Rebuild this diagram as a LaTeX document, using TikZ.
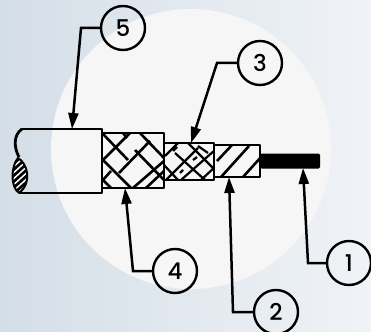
\documentclass[tikz,border=0pt]{standalone}
\usepackage{fontspec}
\setmainfont{Poppins Medium}
\usetikzlibrary{arrows.meta}
\tikzset{
  callout/.style={circle,draw=black,line width=2.4pt,minimum size=44pt,inner sep=0pt,font=\fontsize{23}{23}\selectfont,text=black},
  leader/.style={line width=2.5pt,line join=miter,-{Triangle[length=16pt,width=10pt]}},
  body/.style={line width=2.8pt,line join=round,draw=black},
  weave/.style={line width=2.6pt,line cap=butt}
}
\begin{document}
\begin{tikzpicture}[x=1pt,y=-1pt]
\useasboundingbox (0,0) rectangle (371,331);
\shade[shading=axis,shading angle=105,left color={rgb,255:red,212;green,222;blue,231},right color={rgb,255:red,240;green,243;blue,247}] (0,0) rectangle (371,331);
\fill[fill={rgb,255:red,246;green,246;blue,246}] (191,149) circle[radius=140];
% jacket
\draw[body,line cap=round] (22,129) -- (102,129) -- (102,193) -- (20,193);
\draw[body] (22,129) .. controls (13,135) and (14,148) .. (19,157);
% hatched end
\begin{scope}
\clip (18,158) .. controls (27,163) and (33,182) .. (19,193) .. controls (10,187) and (11,166) .. (18,158) -- cycle;
\fill (0,150) rectangle (40,200);
\foreach \d in {0,6,...,42}{\draw[white,line width=1.5pt] (10,170+\d) -- (32,150+\d);}
\end{scope}
\draw[body,line width=2pt] (18,158) .. controls (27,163) and (33,182) .. (19,193) .. controls (10,187) and (11,166) .. (18,158) -- cycle;
% braid
\begin{scope}
\clip (102,133) rectangle (164,188);
\foreach \a/\b/\c/\e in {
 103/134/128/160, 103/160/130/133, 119/173/148/143, 148/143/150/141, 140/133/164/158,
 135/150/164/180, 103/160/131/188, 133/188/164/161, 103/180/111/171, 146/188/164/171,
 123/133/127/138, 103/180/111/188}{
  \draw[weave] (\a,\b) -- (\c,\e);}
\end{scope}
\draw[body] (102,133) rectangle (164,188);
% shield
\begin{scope}
\clip (164,143) rectangle (214,180);
\foreach \a/\b/\c/\e in {
 165/156/178/143, 166/180/198/148, 181/180/215/150, 175/153/205/180, 188/143/216/171,
 164/165/178/180, 201/180/216/166, 173/151/177/147, 193/160/197/157, 180/173/183/170,
 198/146/208/153}{
  \draw[weave,line width=2.2pt] (\a,\b) -- (\c,\e);}
\end{scope}
\draw[body] (164,143) rectangle (214,180);
% dielectric
\begin{scope}
\clip (214,145) rectangle (260,177);
\draw[weave] (217,161) -- (232,145);
\draw[weave] (221,177) -- (249,146);
\draw[weave] (243,177) -- (262,156);
\end{scope}
\draw[body] (214,145) rectangle (260,177);
% conductor
\fill[rounded corners=1.5pt] (260,153.5) rectangle (320,168.5);
% callouts
\node[callout] (n1) at (349,263) {1};
\node[callout] (n2) at (276,312) {2};
\node[callout] (n3) at (260,63) {3};
\node[callout] (n4) at (175,271) {4};
\node[callout] (n5) at (123,28) {5};
\coordinate (t1) at (303,168);
\coordinate (t2) at (229,177);
\coordinate (t3) at (191,143);
\coordinate (t4) at (125,188);
\coordinate (t5) at (72,129);
\coordinate (b1) at (308,263);
\coordinate (b2) at (233,312);
\coordinate (b3) at (217,63);
\coordinate (b4) at (133,271);
\coordinate (b5) at (81,28);
\draw[leader] (n1.west) -- (b1) -- (t1);
\draw[leader] (n2.west) -- (b2) -- (t2);
\draw[leader] (n3.west) -- (b3) -- (t3);
\draw[leader] (n4.west) -- (b4) -- (t4);
\draw[leader] (n5.west) -- (b5) -- (t5);
\end{tikzpicture}
\end{document}
